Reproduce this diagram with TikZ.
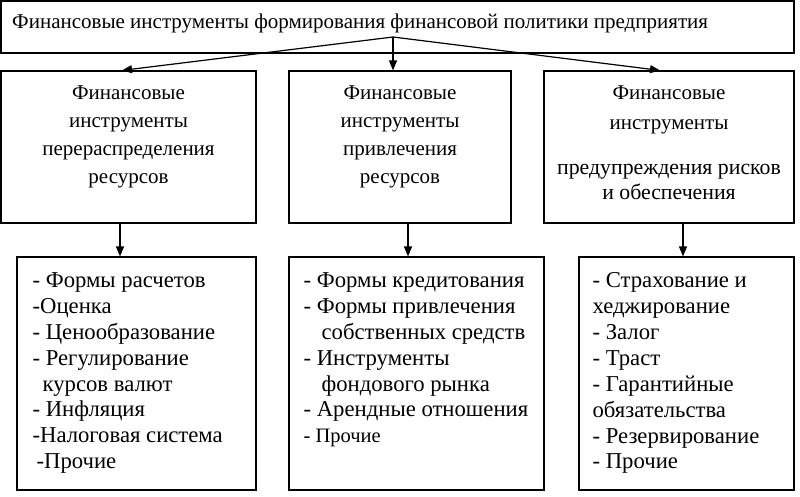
\documentclass[tikz,border=0pt]{standalone}
\usepackage{fontspec}
\setmainfont{Liberation Serif}
\usetikzlibrary{positioning,arrows.meta}

\begin{document}
\begin{tikzpicture}[x=1pt, y=-1pt,
  box/.style={draw, line width=1.2pt, inner sep=0pt},
  head/.style={inner sep=0pt, align=center, font=\fontsize{21}{28}\selectfont},
  items/.style={inner sep=0pt, align=left, font=\fontsize{22.7}{25.9}\selectfont},
  arr/.style={-{Triangle[length=10pt, width=8pt]}, line width=1.2pt}
]
  \useasboundingbox (0,0) rectangle (800,496);

  \node[box, minimum width=793pt, minimum height=52pt] (top) at (397.5,27) {};
  \node[inner sep=0pt, anchor=west, font=\fontsize{21}{26}\selectfont] (title) at (12,23)
    {Финансовые инструменты формирования финансовой политики предприятия};
  \coordinate (src) at (393,37);

  \node[box, minimum width=255pt, minimum height=152pt] (midl) at (128.5,147) {};
  \node[box, minimum width=222pt, minimum height=152pt] (midm) at (400,147) {};
  \node[box, minimum width=250pt, minimum height=152pt] (midr) at (669,147) {};

  \node[head, below=15.5pt of midl.north] (midltext)
    {Финансовые\\инструменты\\перераспределения\\ресурсов};
  \node[head, below=15.5pt of midm.north] (midmtext)
    {Финансовые\\инструменты\\привлечения\\ресурсов};
  \node[head, below=15.5pt of midr.north] (midrtext)
    {Финансовые\\[2pt]инструменты\\[17pt]{\fontsize{21.8}{28}\selectfont предупреждения рисков}\\[-3pt]
     {\fontsize{21.8}{28}\selectfont и обеспечения}};

  \node[box, minimum width=239pt, minimum height=233pt] (botl) at (136.5,373.5) {};
  \node[box, minimum width=255pt, minimum height=233pt] (botm) at (416.5,373.5) {};
  \node[box, minimum width=215pt, minimum height=233pt] (botr) at (686.5,373.5) {};

  \node[items, below right=16pt and 16pt of botl.north west] (botltext)
    {- Формы расчетов\\-Оценка\\- Ценообразование\\- Регулирование\\
     \hspace*{10pt}курсов валют\\- Инфляция\\-Налоговая система\\\hspace*{4pt}-Прочие};
  \node[items, below right=16pt and 15pt of botm.north west] (botmtext)
    {- Формы кредитования\\- Формы привлечения\\\hspace*{18pt}собственных средств\\
     - Инструменты\\\hspace*{18pt}фондового рынка\\- Арендные отношения\\
     {\fontsize{20.5}{22}\selectfont - Прочие}};
  \node[items, below right=16pt and 14pt of botr.north west] (botrtext)
    {- Страхование и\\хеджирование\\- Залог\\- Траст\\- Гарантийные\\
     обязательства\\- Резервирование\\- Прочие};

  \draw[arr] (src) -- ([xshift=-6.5pt]midl.north);
  \draw[arr] (src) -- ([xshift=-7pt]midm.north);
  \draw[arr] (src) -- ([xshift=-9pt]midr.north);

  \draw[arr] ([xshift=-8.5pt]midl.south) -- ([xshift=-8.5pt]midl.south |- botl.north);
  \draw[arr] ([xshift=8pt]midm.south) -- ([xshift=8pt]midm.south |- botm.north);
  \draw[arr] ([xshift=14pt]midr.south) -- ([xshift=14pt]midr.south |- botr.north);
\end{tikzpicture}
\end{document}
